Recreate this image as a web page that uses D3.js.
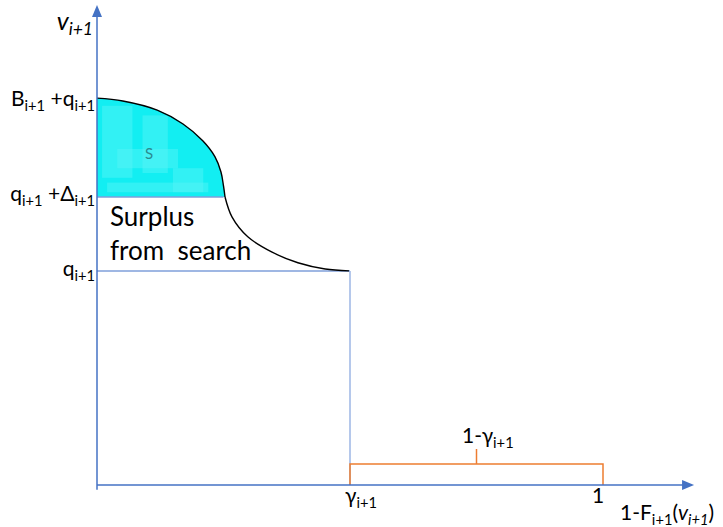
<!DOCTYPE html>
<html><head><meta charset="utf-8">
<script src="https://cdn.jsdelivr.net/npm/d3@7/dist/d3.min.js"></script>
<style>body{margin:0;background:#fff}svg{display:block}text{font-family:Lato,"Open Sans",sans-serif;fill:#000}</style>
</head><body><svg id="c" width="723" height="527"></svg>
<script>
// data (arbitrary units: x = 1-F, y = v)
const xMax = 1.18, yMax = 1.0;
const gamma = 0.5;
const q = 0.446, qDelta = 0.60, Bq = 0.806;
const upperCurve = [[0,0.806],[0.051,0.800],[0.119,0.781],[0.170,0.752],[0.209,0.717],[0.233,0.684],[0.245,0.652],[0.250,0.623],[0.253,0.600]];
const lowerCurve = [[0.253,0.600],[0.267,0.558],[0.298,0.517],[0.346,0.485],[0.397,0.463],[0.451,0.450],[0.498,0.446]];
const yLabels = ["B","q","q"];
const bracketLabel = "1-γ";

const svg = d3.select("#c");
const x = d3.scaleLinear().domain([0, 1]).range([97, 603]);
const y = d3.scaleLinear().domain([0, 1]).range([485, 5]);
const axisBlue = "#4472C4", lineBlue = "#7F9FDA", orange = "#ED7D31";

// cyan surplus area
const area = d3.area().x(d=>x(d[0])).y0(y(qDelta)).y1(d=>y(d[1])).curve(d3.curveCatmullRom);
const defs = svg.append("defs");
defs.append("clipPath").attr("id","sc").append("path").datum(upperCurve).attr("d", area);
svg.append("path").datum(upperCurve).attr("d", area).attr("fill", "#12EEF2");
const g = svg.append("g").attr("clip-path","url(#sc)");
const patches = [[0.01,0.79,0.06,0.15],[0.09,0.77,0.05,0.12],[0.04,0.70,0.12,0.04],[0.15,0.66,0.06,0.05],[0.02,0.63,0.2,0.02]];
patches.forEach(p=>g.append("rect").attr("x",x(p[0])).attr("y",y(p[1])).attr("width",x(p[2])-x(0)).attr("height",y(0)-y(p[3])).attr("fill","#5AF4F6").attr("opacity",0.45));
svg.append("text").attr("x", x(0.095)).attr("y", y(0.68)).attr("font-size", 15).style("fill","#2A8A90").text("S");

// blue inner lines
svg.append("line").attr("x1", x(0)).attr("x2", x(0.25)).attr("y1", y(qDelta)).attr("y2", y(qDelta)).attr("stroke", lineBlue).attr("stroke-width", 1.5);
svg.append("line").attr("x1", x(0)).attr("x2", x(gamma)).attr("y1", y(q)).attr("y2", y(q)).attr("stroke", lineBlue).attr("stroke-width", 1.5);
svg.append("line").attr("x1", x(gamma)).attr("x2", x(gamma)).attr("y1", y(q)).attr("y2", y(0)).attr("stroke", "#9DB6E4").attr("stroke-width", 1.5);

// curve
const line = d3.line().x(d=>x(d[0])).y(d=>y(d[1])).curve(d3.curveCatmullRom);
svg.append("path").datum(upperCurve).attr("d", line).attr("fill","none").attr("stroke","#000").attr("stroke-width",1.4);
svg.append("path").datum(lowerCurve).attr("d", line).attr("fill","none").attr("stroke","#000").attr("stroke-width",1.4);

// bracket
const bY = 0.044, bMid = 0.075;
svg.append("path").attr("d", `M${x(gamma)},${y(0)}V${y(bY)}H${x(1)}V${y(0)}`).attr("fill","none").attr("stroke",orange).attr("stroke-width",1.5);
svg.append("line").attr("x1", x((gamma+1)/2)).attr("x2", x((gamma+1)/2)).attr("y1", y(bY)).attr("y2", y(bMid)).attr("stroke",orange).attr("stroke-width",1.5);

// axes
svg.append("line").attr("x1", x(0)).attr("x2", x(0)).attr("y1", y(-0.01)).attr("y2", y(yMax)+10).attr("stroke", axisBlue).attr("stroke-width", 1.5);
svg.append("path").attr("d", `M${x(0)},${y(yMax)}l-5,12h10z`).attr("fill", axisBlue);
svg.append("line").attr("x1", x(0)).attr("x2", x(xMax)-10).attr("y1", y(0)).attr("y2", y(0)).attr("stroke", axisBlue).attr("stroke-width", 1.5);
svg.append("path").attr("d", `M${x(xMax)},${y(0)}l-12,-5v10z`).attr("fill", axisBlue);

// label helper
function label(parts, px, py, anchor, size) {
  size = size || 21;
  const t = svg.append("text").attr("x", px).attr("y", py).attr("text-anchor", anchor||"start").attr("font-size", size);
  parts.forEach(p=>{
    const s = t.append("tspan").text(p.t);
    if (p.sub) s.attr("font-size", size*0.7).attr("dy", 5);
    else if (p.up) s.attr("dy", -5);
    if (p.it) s.attr("font-style","italic");
  });
  return t;
}
label([{t:"v",it:true},{t:"i+1",sub:true,it:true}], 93, 30, "end", 25);
label([{t:yLabels[0]},{t:"i+1",sub:true},{t:" +q",up:true},{t:"i+1",sub:true}], 95, 106, "end");
label([{t:yLabels[1]},{t:"i+1",sub:true},{t:" +Δ",up:true},{t:"i+1",sub:true}], 95, 201, "end");
label([{t:yLabels[2]},{t:"i+1",sub:true}], 95, 276, "end");
svg.append("text").attr("x",110).attr("y",226).attr("font-size",26).text("Surplus");
svg.append("text").attr("x",110).attr("y",260).attr("font-size",26).attr("xml:space","preserve").text("from  search");
label([{t:"γ"},{t:"i+1",sub:true}], 345, 503, "start");
label([{t:"1"}], 598, 503, "middle");
label([{t:bracketLabel},{t:"i+1",sub:true}], 462, 443, "start");
label([{t:"1-F"},{t:"i+1",sub:true},{t:"(",up:true},{t:"v",it:true},{t:"i+1",sub:true,it:true},{t:")",up:true}], 620, 520, "start");
</script></body></html>
